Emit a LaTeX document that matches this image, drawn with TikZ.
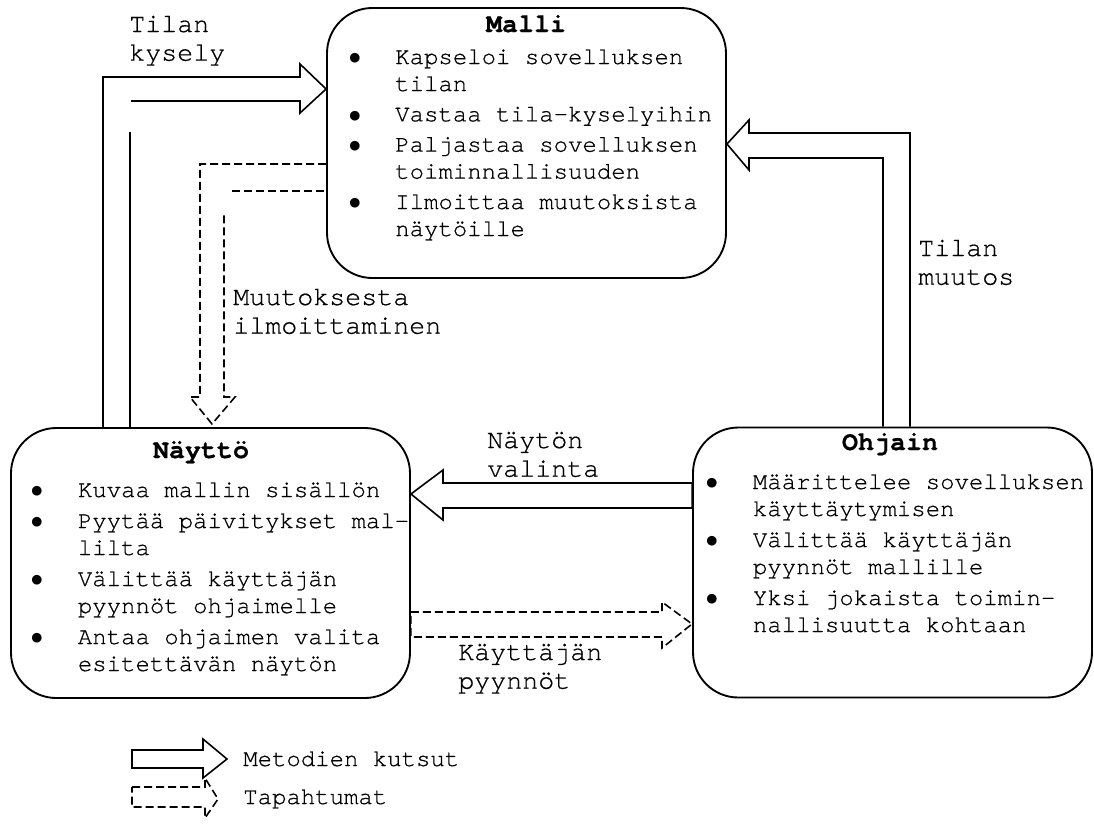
\documentclass[tikz,border=0pt]{standalone}
\usepackage{fontspec}
\setmainfont{texgyrecursor-regular.otf}[BoldFont=texgyrecursor-bold.otf,
  FakeBold=0.6]
\newfontfamily\symfont{DejaVu Sans}
\usetikzlibrary{calc}

% two-line label, first baseline at the node's base
\newcommand{\lbltwo}[2]{\begin{tabular}[t]{@{}l@{}}#1\\#2\end{tabular}}
% list bullet
\newcommand{\bul}{\raisebox{1.6pt}{\symfont\fontsize{9.5}{9.5}\selectfont ●}}

\begin{document}
\begin{tikzpicture}[x=0.75pt,y=-0.75pt,
  box/.style={draw, line width=1.4pt, rounded corners=34pt, inner sep=0pt,
    minimum width=299.25pt, minimum height=202.5pt},
  boxtitle/.style={inner sep=0pt, anchor=base, font=\fontsize{20}{24}\selectfont\bfseries},
  bullets/.style={inner sep=0pt, anchor=base west, font=\fontsize{18}{20.25}\selectfont},
  lbl/.style={inner sep=0pt, anchor=base west, font=\fontsize{20}{21.5}\selectfont},
  legtext/.style={inner sep=0pt, anchor=base west, font=\fontsize{18}{20.25}\selectfont},
  callarrow/.style={draw, line width=1.2pt, line join=miter},
  eventarrow/.style={draw, line width=1.2pt, line join=miter, dash pattern=on 6pt off 3pt},
]
\useasboundingbox (0,0) rectangle (1094,832);

% --- the three components
\node[box] (malli)  at (526.5,143) {};
\node[box] (naytto) at (210.5,563) {};
\node[box] (ohjain) at (892.5,562.5) {};

\node[boxtitle] (mallit)  at (526,32)  {Malli};
\node[boxtitle] (nayttot) at (201,458) {Näyttö};
\node[boxtitle] (ohjaint) at (890,450) {Ohjain};

\node[bullets] (mallil) at (349,64) {\begin{tabular}[t]{@{}p{34.5pt}@{}l@{}}
\bul & Kapseloi sovelluksen\\
  & tilan\\[2.5pt]
\bul & Vastaa tila-kyselyihin\\[2.5pt]
\bul & Paljastaa sovelluksen\\
  & toiminnallisuuden\\[2.5pt]
\bul & Ilmoittaa muutoksista\\
  & näytöille
\end{tabular}};

\node[bullets] (nayttol) at (31,497) {\begin{tabular}[t]{@{}p{35pt}@{}l@{}}
\bul & Kuvaa mallin sisällön\\[3pt]
\bul & Pyytää päivitykset mal-\\
  & lilta\\[3pt]
\bul & Välittää käyttäjän\\
  & pyynnöt ohjaimelle\\[3pt]
\bul & Antaa ohjaimen valita\\
  & esitettävän näytön
\end{tabular}};

\node[bullets] (ohjainl) at (706,489) {\begin{tabular}[t]{@{}p{35pt}@{}l@{}}
\bul & Määrittelee sovelluksen\\
  & käyttäytymisen\\[3pt]
\bul & Välittää käyttäjän\\
  & pyynnöt mallille\\[3pt]
\bul & Yksi jokaista toimin-\\
  & nallisuutta kohtaan
\end{tabular}};

% --- method calls (outlined block arrows)
% state query: view -> model
\draw[callarrow] (103,0 |- naytto.north) -- (103,77) -- (300,77) -- (300,64)
  -- (malli.west |- 0,89) -- (300,113) -- (300,101) -- (131,101);
\draw[callarrow] (130,132) -- (130,0 |- naytto.north);

% state change: controller -> model
\draw[callarrow] (910,0 |- ohjain.north) -- (910,133) -- (749,133) -- (749,120)
  -- (malli.east |- 0,144) -- (749,170) -- (749,158) -- (883,158)
  -- (883,0 |- ohjain.north);

% view selection: controller -> view
\draw[callarrow] (ohjain.west |- 0,483) -- (443,483) -- (443,470)
  -- (naytto.east |- 0,494) -- (443,520) -- (443,508)
  -- (ohjain.west |- 0,508) -- cycle;

% --- events (dashed block arrows)
% change notification: model -> view
\draw[eventarrow] (malli.west |- 0,164) -- (200,164) -- (200,397) -- (190,397)
  -- (212,424) -- (235,397) -- (224,397) -- (224,213);
\draw[eventarrow] (232,191) -- (malli.west |- 0,191);

% user requests: view -> controller
\draw[eventarrow] (naytto.east |- 0,612) -- (662,612) -- (662,602)
  -- (ohjain.west |- 0,624) -- (662,648) -- (662,637)
  -- (naytto.east |- 0,637) -- cycle;

% --- connector labels
\node[lbl] (lkysely)  at (129,32)  {\lbltwo{Tilan}{kysely}};
\node[lbl] (lmuutos)  at (918,256) {\lbltwo{Tilan}{muutos}};
\node[lbl] (lilmoit)  at (233,305) {\lbltwo{Muutoksesta}{ilmoittaminen}};
\node[lbl] (lvalinta) at (487,448) {\lbltwo{Näytön}{valinta}};
\node[lbl] (lpyynnot) at (458,660) {\lbltwo{Käyttäjän}{pyynnöt}};

% --- legend
\draw[callarrow] (132,750) -- (203,750) -- (203,739) -- (227,759) -- (203,778)
  -- (203,768) -- (132,768) -- cycle;
\node[legtext] (legcall) at (243,766) {Metodien kutsut};
\draw[eventarrow] (132,787) -- (205,787) -- (205,778) -- (218,799) -- (205,818)
  -- (205,807) -- (132,807) -- cycle;
\node[legtext] (legevent) at (243,804) {Tapahtumat};
\end{tikzpicture}
\end{document}
